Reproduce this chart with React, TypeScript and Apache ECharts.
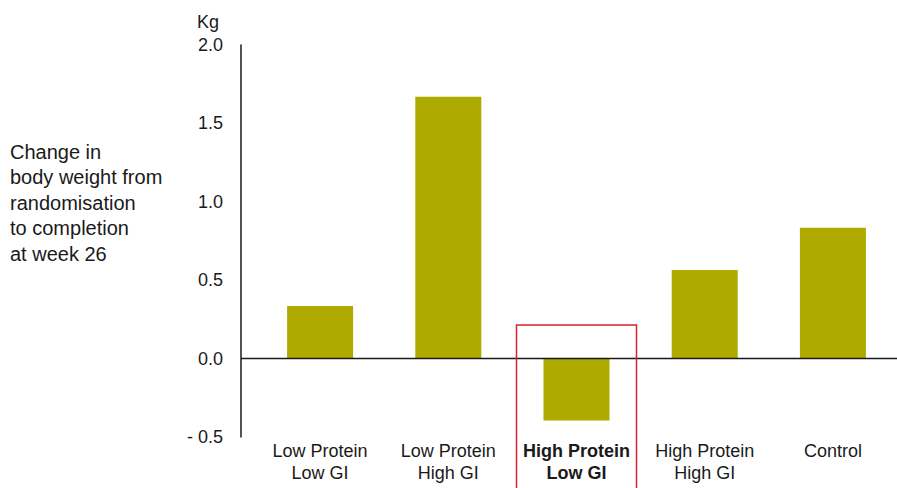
import React, { useEffect, useRef } from "react";
import * as echarts from "echarts";

const categories = [
  "Low Protein\nLow GI",
  "Low Protein\nHigh GI",
  "High Protein\nLow GI",
  "High Protein\nHigh GI",
  "Control",
];
const values = [0.335, 1.67, -0.395, 0.565, 0.835];
const highlightIndex = 2;
const highlightTop = 0.215;
const yMin = -0.5;
const yMax = 2.0;
const yStep = 0.5;
const unitLabel = "Kg";
const sideTitle = "Change in\nbody weight from\nrandomisation\nto completion\nat week 26";

const FONT = "Liberation Sans";
const TEXT = "#1a1a1a";
const BAR = "#aeaa00";
const GRID_LEFT = 256;
const AXIS_OFFSET = 15;

export default function App() {
  const ref = useRef<HTMLDivElement>(null);
  useEffect(() => {
    if (!ref.current) return;
    document.body.style.margin = "0";
    const chart = echarts.init(ref.current, undefined, { renderer: "svg" });
    chart.setOption({
      animation: false,
      textStyle: { fontFamily: FONT },
      title: {
        text: sideTitle,
        left: 10,
        top: 139,
        padding: 0,
        textStyle: {
          fontFamily: FONT,
          fontSize: 20,
          fontWeight: "normal",
          color: TEXT,
          lineHeight: 25.5,
        },
      },
      grid: { left: GRID_LEFT, width: 642, top: 45, height: 392 },
      xAxis: {
        type: "category",
        data: categories,
        axisLine: { show: false, onZero: false },
        axisTick: { show: false },
        axisLabel: {
          interval: 0,
          margin: 3,
          fontSize: 18,
          lineHeight: 22,
          color: TEXT,
          fontFamily: FONT,
          formatter: (v: string, i: number) =>
            i === highlightIndex
              ? v
                  .split("\n")
                  .map((l) => `{b|${l}}`)
                  .join("\n")
              : v,
          rich: {
            b: {
              fontWeight: "bold",
              fontSize: 18,
              lineHeight: 22,
              color: TEXT,
              fontFamily: FONT,
            },
          },
        },
      },
      yAxis: {
        type: "value",
        min: yMin,
        max: yMax,
        interval: yStep,
        offset: AXIS_OFFSET,
        axisLine: { show: true, lineStyle: { color: TEXT, width: 1.5 } },
        axisTick: { show: false },
        splitLine: { show: false },
        axisLabel: {
          margin: 18,
          fontSize: 18,
          color: TEXT,
          fontFamily: FONT,
          formatter: (v: number) =>
            v < 0 ? "- " + Math.abs(v).toFixed(1) : v.toFixed(1),
        },
      },
      series: [
        {
          type: "bar",
          data: values,
          barWidth: 66,
          itemStyle: { color: BAR },
        },
      ],
    });

    const y0 = chart.convertToPixel({ yAxisIndex: 0 }, 0) as number;
    const yTop = chart.convertToPixel({ yAxisIndex: 0 }, highlightTop) as number;
    const xc = chart.convertToPixel({ xAxisIndex: 0 }, highlightIndex) as number;
    const yAxisTop = chart.convertToPixel({ yAxisIndex: 0 }, yMax) as number;
    const axisX = GRID_LEFT - AXIS_OFFSET;
    chart.setOption({
      graphic: [
        {
          type: "line",
          shape: { x1: axisX, y1: y0, x2: 897, y2: y0 },
          style: { stroke: TEXT, lineWidth: 1.5 },
          z: 10,
        },
        {
          type: "rect",
          shape: { x: xc - 60, y: yTop, width: 120, height: 200 },
          style: { fill: "none", stroke: "#d8202e", lineWidth: 1.5 },
          z: 11,
        },
        {
          type: "text",
          x: 208,
          y: yAxisTop - 23,
          style: {
            text: unitLabel,
            fontSize: 18,
            fontFamily: FONT,
            fill: TEXT,
            align: "center",
            verticalAlign: "middle",
          },
        },
      ],
    });

    return () => chart.dispose();
  }, []);
  return <div ref={ref} style={{ width: 897, height: 488 }} />;
}
